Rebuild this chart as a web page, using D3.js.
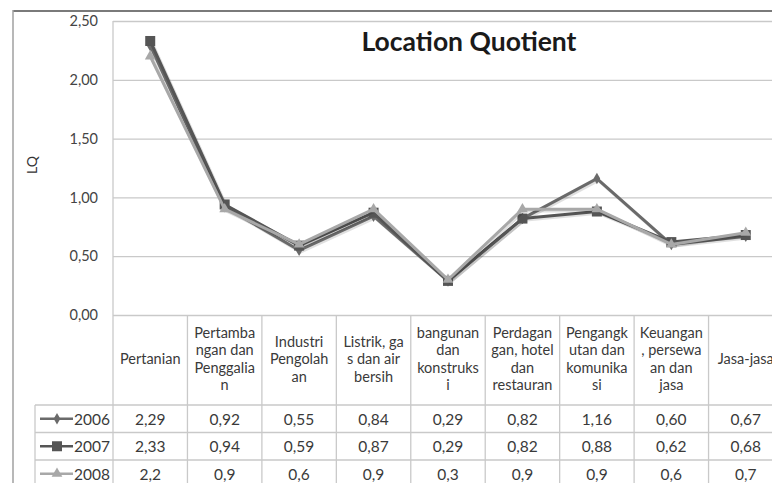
<!DOCTYPE html>
<html>
<head>
<meta charset="utf-8">
<script src="https://cdn.jsdelivr.net/npm/d3@7/dist/d3.min.js"></script>
<style>
  body { margin: 0; background: #fff; }
  svg { display: block; font-family: Lato, "Open Sans", sans-serif; }
</style>
</head>
<body>
<svg id="chart" width="772" height="483"></svg>
<script>
// categories (label lines as in the data table header)
var categories = ["Pertanian", "Pertambangan dan Penggalian", "Industri Pengolahan",
  "Listrik, gas dan air bersih", "bangunan dan konstruksi", "Perdagangan, hotel dan restauran",
  "Pengangkutan dan komunikasi", "Keuangan, persewaan dan jasa", "Jasa-jasa"];
var categoryLines = [
  ["Pertanian"],
  ["Pertamba", "ngan dan", "Penggalia", "n"],
  ["Industri", "Pengolah", "an"],
  ["Listrik, ga", "s dan air", "bersih"],
  ["bangunan", "dan", "konstruks", "i"],
  ["Perdagan", "gan, hotel", "dan", "restauran"],
  ["Pengangk", "utan dan", "komunika", "si"],
  ["Keuangan", ", persewa", "an dan", "jasa"],
  ["Jasa-jasa"]
];
var years = ["2006", "2007", "2008"];
var lq2006 = [2.29, 0.92, 0.55, 0.84, 0.29, 0.82, 1.16, 0.60, 0.67];
var lq2007 = [2.33, 0.94, 0.59, 0.87, 0.29, 0.82, 0.88, 0.62, 0.68];
var lq2008 = [2.2, 0.9, 0.6, 0.9, 0.3, 0.9, 0.9, 0.6, 0.7];
var yTicks = [0, 0.5, 1, 1.5, 2, 2.5];

(function () {
  var series = [
    { name: years[0], values: lq2006, color: "#6a6a6a", marker: "diamond", dec: 2 },
    { name: years[1], values: lq2007, color: "#555555", marker: "square", dec: 2 },
    { name: years[2], values: lq2008, color: "#a8a8a8", marker: "triangle", dec: null }
  ];

  var svg = d3.select("#chart");
  var plotLeft = 113, plotRight = 783, plotTop = 21, plotBottom = 315;
  var headerBottom = 405, rowH = 27.5;
  var gridColor = "#c9c9c9";
  var textColor = "#3a3a3a";

  var loc = d3.formatLocale({ decimal: ",", thousands: ".", grouping: [3], currency: ["", ""] });
  var fmt2 = loc.format(".2f");
  function fmtVal(v, dec) { return dec ? fmt2(v) : String(v).replace(".", ","); }

  var x = d3.scaleBand().domain(categories).range([plotLeft, plotRight]);
  var y = d3.scaleLinear().domain([0, 2.5]).range([plotBottom, plotTop]);
  function cx(k) { return x(categories[k]) + x.bandwidth() / 2; }

  // outer frame
  svg.append("line").attr("x1", 13).attr("x2", 772).attr("y1", 11).attr("y2", 11)
    .attr("stroke", "#7a7a7a").attr("stroke-width", 2);
  svg.append("line").attr("x1", 13).attr("x2", 13).attr("y1", 10).attr("y2", 483)
    .attr("stroke", "#a0a0a0").attr("stroke-width", 1.5);

  // gridlines + y axis
  var yAxis = svg.append("g").attr("transform", "translate(" + plotLeft + ",0)")
    .call(d3.axisLeft(y).tickValues(yTicks).tickFormat(fmt2).tickSize(-(plotRight - plotLeft)).tickPadding(15));
  yAxis.select(".domain").remove();
  yAxis.selectAll(".tick line").attr("stroke", gridColor).attr("stroke-width", 1.3);
  yAxis.selectAll(".tick text").attr("fill", "#444").attr("font-size", 14.5)
    .attr("font-family", "Lato, sans-serif");

  svg.append("text").attr("transform", "translate(37,165) rotate(-90)")
    .attr("text-anchor", "middle").attr("font-size", 14).attr("fill", "#333").text("LQ");

  // title
  svg.append("text").attr("x", 469).attr("y", 51).attr("text-anchor", "middle")
    .attr("font-size", 26.5).attr("font-weight", "bold").attr("fill", "#1a1a1a").text("Location Quotient");

  // data table grid
  svg.append("line").attr("x1", plotLeft).attr("x2", plotLeft).attr("y1", plotTop).attr("y2", 483)
    .attr("stroke", gridColor).attr("stroke-width", 1.3);
  categories.forEach(function (c) {
    svg.append("line").attr("x1", x(c) + x.bandwidth()).attr("x2", x(c) + x.bandwidth())
      .attr("y1", plotBottom).attr("y2", 483).attr("stroke", gridColor).attr("stroke-width", 1.3);
  });
  svg.append("line").attr("x1", 35).attr("x2", 35).attr("y1", headerBottom).attr("y2", 483)
    .attr("stroke", gridColor).attr("stroke-width", 1.3);
  series.forEach(function (s, i) {
    svg.append("line").attr("x1", 35).attr("x2", plotRight).attr("y1", headerBottom + i * rowH)
      .attr("y2", headerBottom + i * rowH).attr("stroke", gridColor).attr("stroke-width", 1.3);
  });

  // header labels
  var lineH = 17.5;
  categories.forEach(function (c, i) {
    var lines = categoryLines[i];
    var cy = 358 - (lines.length - 1) * lineH / 2;
    var t = svg.append("text").attr("text-anchor", "middle").attr("font-size", 14.5)
      .attr("fill", textColor).attr("dominant-baseline", "central");
    lines.forEach(function (l, j) {
      t.append("tspan").attr("x", cx(i)).attr("y", cy + j * lineH).text(l);
    });
  });

  // markers
  function drawMarker(g, type, px, py, color, size) {
    if (type === "square") {
      g.append("rect").attr("x", px - size / 2).attr("y", py - size / 2).attr("width", size).attr("height", size)
        .attr("fill", color);
    } else {
      var sym = type === "diamond" ? d3.symbolDiamond : d3.symbolTriangle;
      var area = type === "diamond" ? size * size * 0.6 : size * size * 0.5;
      g.append("path").attr("d", d3.symbol().type(sym).size(area)())
        .attr("transform", "translate(" + px + "," + py + ")").attr("fill", color);
    }
  }

  // table rows
  series.forEach(function (s, i) {
    var ry = headerBottom + i * rowH + rowH / 2;
    svg.append("line").attr("x1", 40).attr("x2", 73).attr("y1", ry).attr("y2", ry)
      .attr("stroke", s.color).attr("stroke-width", 2.5);
    drawMarker(svg, s.marker, 57, ry, s.color, s.marker === "diamond" ? 8 : 10);
    svg.append("text").attr("x", 110).attr("y", ry).attr("text-anchor", "end")
      .attr("dominant-baseline", "central").attr("font-size", 15.5).attr("fill", textColor).text(s.name);
    s.values.forEach(function (v, k) {
      svg.append("text").attr("x", cx(k)).attr("y", ry)
        .attr("text-anchor", "middle").attr("dominant-baseline", "central")
        .attr("font-size", 15.5).attr("fill", textColor).text(fmtVal(v, s.dec));
    });
  });

  // lines
  var line = d3.line()
    .x(function (d, i) { return cx(i); })
    .y(function (d) { return y(d); });

  series.forEach(function (s) {
    var g = svg.append("g");
    g.append("path").datum(s.values).attr("d", line).attr("fill", "none")
      .attr("stroke", "#000").attr("stroke-opacity", 0.12).attr("stroke-width", 3.5)
      .attr("transform", "translate(1.5,1.5)");
    g.append("path").datum(s.values).attr("d", line).attr("fill", "none")
      .attr("stroke", s.color).attr("stroke-width", 3).attr("stroke-linejoin", "round");
    s.values.forEach(function (v, k) {
      drawMarker(g, s.marker, cx(k), y(v), s.color, s.marker === "diamond" ? 8 : 10);
    });
  });
})();
</script>
</body>
</html>
